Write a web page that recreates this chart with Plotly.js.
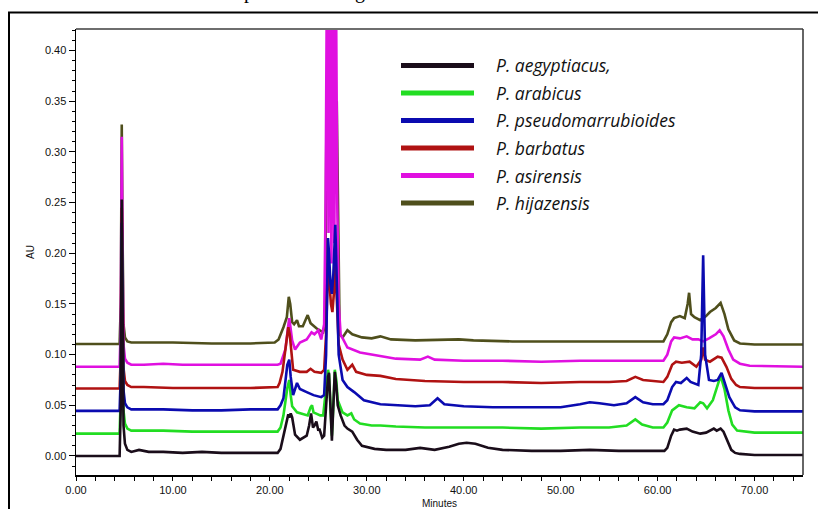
<!DOCTYPE html>
<html>
<head>
<meta charset="utf-8">
<script src="https://cdn.plot.ly/plotly-3.0.1.min.js"></script>
<style>
html,body{margin:0;padding:0;background:#fff;}
#chart{width:818px;height:509px;}
</style>
</head>
<body>
<div id="chart"></div>
<script>
// ---- Data (retention time in minutes, absorbance in AU) ----
const seriesNames = ["P. aegyptiacus,", "P. arabicus", "P. pseudomarrubioides", "P. barbatus", "P. asirensis", "P. hijazensis"];
const seriesColors = ["#1a0d1a", "#22dd22", "#0b0bb0", "#b01212", "#e010e0", "#4f4f1c"];
// stacking order from bottom to top (indices into the series above)
const drawOrder = [5, 4, 3, 1, 2, 0];

const aegyptiacusT = [0,4.5,4.62,4.72,4.8,4.9,5.05,5.3,5.7,6.5,7.5,9,11,13,15,17,19,20.8,21.1,21.4,21.75,21.9,22.0,22.15,22.3,22.6,23.1,23.8,24.05,24.25,24.45,24.6,24.8,25.0,25.1,25.4,25.6,25.8,26.0,26.1,26.25,26.4,26.55,26.7,26.85,27.0,27.3,27.7,28.0,28.5,29.0,29.5,30.8,32,34,35.5,37,38.5,39.5,40.3,41.2,42.5,44,47,50,53,56,59,60.7,61.0,61.4,61.7,62.0,62.3,63.0,63.6,64.4,65.0,65.8,66.1,66.5,66.8,67.2,67.6,68.0,68.5,70,72,75];
const aegyptiacusY = [0.000,0.000,0.05,0.253,0.15,0.03,0.012,0.006,0.004,0.006,0.004,0.004,0.003,0.004,0.003,0.003,0.003,0.003,0.007,0.021,0.036,0.041,0.038,0.042,0.038,0.021,0.016,0.020,0.030,0.042,0.028,0.030,0.034,0.025,0.027,0.018,0.020,0.050,0.078,0.082,0.050,0.015,0.050,0.083,0.070,0.050,0.040,0.030,0.027,0.024,0.016,0.010,0.007,0.006,0.006,0.008,0.006,0.009,0.012,0.013,0.012,0.008,0.006,0.005,0.005,0.006,0.005,0.005,0.005,0.008,0.020,0.026,0.025,0.026,0.027,0.024,0.022,0.023,0.027,0.025,0.027,0.024,0.014,0.006,0.003,0.002,0.001,0.001,0.001];

const arabicusT = [0,4.5,4.62,4.72,4.8,4.9,5.05,5.3,5.7,7,9,12,15,18,20.8,21.1,21.4,21.8,22.0,22.15,22.3,22.8,23.4,23.9,24.2,24.35,24.5,25.2,25.5,25.8,26.0,26.1,26.25,26.4,26.55,26.7,26.85,27.0,27.5,28.0,28.4,28.7,29.3,30.5,31.4,33,36,40,44,48,52,55,56.8,57.7,58.4,59.5,60.6,61.0,61.5,62.2,63.0,63.8,64.4,64.7,65.1,65.7,66.2,66.5,66.9,67.3,67.7,68.2,70,75];
const arabicusY = [0.022,0.022,0.06,0.22,0.14,0.045,0.032,0.027,0.025,0.025,0.025,0.024,0.024,0.024,0.024,0.028,0.040,0.067,0.075,0.060,0.049,0.043,0.041,0.040,0.048,0.050,0.043,0.040,0.040,0.070,0.085,0.080,0.050,0.020,0.050,0.085,0.075,0.055,0.043,0.040,0.042,0.036,0.032,0.030,0.030,0.029,0.028,0.028,0.028,0.027,0.028,0.028,0.030,0.036,0.031,0.028,0.028,0.033,0.045,0.050,0.048,0.047,0.053,0.052,0.047,0.055,0.070,0.079,0.066,0.045,0.031,0.025,0.023,0.023];

const pseudomarrubioidesT = [0,4.5,4.62,4.72,4.8,4.9,5.05,5.3,5.7,7,9,12,15,18,20.8,21.1,21.4,21.8,22.0,22.15,22.4,22.8,23.1,23.8,24.5,25.3,25.6,25.8,26.0,26.1,26.25,26.4,26.55,26.75,26.9,27.1,27.5,28.0,28.7,29.7,31.4,33,35,36.5,37.3,38,40,43,47,50,52,53,54,55.5,56.8,57.7,58.5,59.5,60.6,61.0,61.5,61.9,62.4,63.0,63.4,64.2,64.5,64.7,64.9,65.3,65.8,66.2,66.6,67.0,67.4,68.0,68.5,70,75];
const pseudomarrubioidesY = [0.0445,0.0445,0.08,0.23,0.15,0.065,0.052,0.048,0.046,0.046,0.046,0.045,0.045,0.046,0.046,0.050,0.057,0.090,0.095,0.078,0.060,0.072,0.066,0.063,0.060,0.058,0.060,0.100,0.215,0.200,0.170,0.160,0.180,0.228,0.170,0.100,0.075,0.068,0.063,0.055,0.051,0.050,0.049,0.050,0.057,0.051,0.049,0.048,0.048,0.048,0.051,0.053,0.052,0.050,0.052,0.058,0.053,0.051,0.051,0.055,0.068,0.073,0.072,0.077,0.073,0.070,0.100,0.198,0.100,0.075,0.074,0.075,0.082,0.070,0.058,0.048,0.045,0.044,0.044];

const barbatusT = [0,4.5,4.62,4.72,4.8,4.9,5.05,5.3,5.7,7,10,14,18,20.8,21.0,21.3,21.7,21.9,22.05,22.2,22.4,23.1,23.8,24.2,24.6,25.3,25.6,25.8,26.0,26.15,26.3,26.45,26.6,26.75,26.9,27.1,27.5,28.0,28.5,28.9,30,31.4,33,36,40,44,48,52,55,56.8,57.7,58.5,60.6,61.0,61.5,61.9,62.5,63.3,64.0,64.5,64.7,64.9,65.4,66.2,66.6,67.1,67.6,68.1,68.5,70,75];
const barbatusY = [0.0665,0.0665,0.10,0.245,0.16,0.087,0.074,0.070,0.068,0.068,0.067,0.067,0.067,0.068,0.072,0.083,0.115,0.127,0.120,0.105,0.085,0.083,0.083,0.086,0.083,0.082,0.085,0.120,0.190,0.170,0.150,0.142,0.160,0.190,0.150,0.110,0.095,0.085,0.090,0.083,0.080,0.079,0.076,0.074,0.073,0.073,0.072,0.073,0.073,0.074,0.078,0.075,0.073,0.078,0.090,0.093,0.092,0.093,0.088,0.095,0.107,0.095,0.093,0.098,0.097,0.088,0.076,0.070,0.068,0.067,0.067];

const asirensisT = [0,4.5,4.62,4.72,4.8,4.9,5.05,5.3,5.7,7,9,11,14,18,20.8,21.1,21.6,21.85,22.0,22.15,22.3,22.6,23.1,23.8,24.3,24.6,25.0,25.3,25.6,25.75,25.9,26.05,26.2,26.35,26.5,26.65,26.8,26.95,27.1,27.3,28.0,29.3,31.4,33,35.5,36.3,37,40,44,48,52,56,60.6,61.0,61.4,61.7,62.3,63.0,63.6,64.2,64.7,65.3,66.0,66.4,66.8,67.3,67.8,68.5,69.5,75];
const asirensisY = [0.088,0.088,0.13,0.315,0.20,0.110,0.096,0.092,0.090,0.090,0.091,0.090,0.090,0.090,0.090,0.091,0.105,0.125,0.136,0.125,0.114,0.105,0.112,0.115,0.122,0.120,0.124,0.115,0.130,0.250,0.500,0.220,0.500,0.190,0.500,0.210,0.500,0.250,0.150,0.120,0.107,0.102,0.099,0.096,0.095,0.098,0.095,0.094,0.094,0.093,0.094,0.094,0.094,0.100,0.113,0.117,0.116,0.118,0.115,0.115,0.113,0.116,0.120,0.124,0.118,0.105,0.095,0.091,0.089,0.088];

const hijazensisT = [0,4.5,4.62,4.72,4.8,4.9,5.05,5.3,5.7,7,10,14,18,20.5,20.9,21.4,21.75,21.95,22.1,22.3,22.5,22.8,23.0,23.4,23.9,24.2,24.8,25.5,25.7,25.85,26.45,26.9,27.05,27.2,27.5,28.0,28.5,29.5,30.5,31.4,32.5,35,39.5,41,45,50,55,60.6,61.0,61.4,61.7,62.3,62.8,63.1,63.25,63.45,63.8,64.4,65.0,65.4,66.0,66.5,66.9,67.3,67.9,68.5,70,75];
const hijazensisY = [0.1105,0.1105,0.15,0.327,0.22,0.130,0.117,0.113,0.112,0.112,0.112,0.111,0.111,0.112,0.115,0.127,0.137,0.157,0.150,0.132,0.130,0.134,0.128,0.128,0.139,0.131,0.126,0.122,0.130,0.350,0.300,0.350,0.200,0.120,0.117,0.124,0.120,0.117,0.116,0.118,0.115,0.114,0.115,0.114,0.113,0.113,0.113,0.113,0.120,0.132,0.136,0.138,0.136,0.150,0.161,0.140,0.137,0.134,0.138,0.142,0.146,0.151,0.140,0.125,0.114,0.111,0.110,0.110];

const xTickLabels = ["0.00","10.00","20.00","30.00","40.00","50.00","60.00","70.00"];
const xTickVals = [0,10,20,30,40,50,60,70];
const yTickLabels = ["0.00","0.05","0.10","0.15","0.20","0.25","0.30","0.35","0.40"];
const yTickVals = [0,0.05,0.10,0.15,0.20,0.25,0.30,0.35,0.40];

// ---- Layout geometry ----
const W = 818, H = 509, ML = 76, MR = 15, MT = 29, MB = 34;
const PW = W - ML - MR, PH = H - MT - MB;
const px = v => (v - ML) / PW;          // page pixel x -> paper x
const py = v => (H - MB - v) / PH;      // page pixel y -> paper y

const allT = [aegyptiacusT, arabicusT, pseudomarrubioidesT, barbatusT, asirensisT, hijazensisT];
const allY = [aegyptiacusY, arabicusY, pseudomarrubioidesY, barbatusY, asirensisY, hijazensisY];

const traces = drawOrder.map(i => ({
  x: allT[i], y: allY[i], type: 'scatter', mode: 'lines',
  name: seriesNames[i],
  line: {color: seriesColors[i], width: 2.6},
  showlegend: false, hoverinfo: 'skip'
}));

const shapes = [
  // outer frame of the figure
  {type: 'rect', xref: 'paper', yref: 'paper', x0: px(9), x1: px(840), y0: py(530), y1: py(12.5),
   line: {color: '#000', width: 2}, fillcolor: 'rgba(0,0,0,0)', layer: 'below'},
  // top and right border of the plot box
  {type: 'line', xref: 'paper', yref: 'paper', x0: 0, x1: 1, y0: 1, y1: 1, line: {color: '#6e6e6e', width: 2}},
  {type: 'line', xref: 'paper', yref: 'paper', x0: 1, x1: 1, y0: 0, y1: 1, line: {color: '#333', width: 1.5}}
];
const annotations = [];

// custom legend
const legLineX0 = 401, legLineX1 = 474, legTextX = 494, legY0 = 65.5, legStep = 27.5;
seriesNames.forEach((n, i) => {
  const yy = py(legY0 + i * legStep);
  shapes.push({type: 'line', xref: 'paper', yref: 'paper', x0: px(legLineX0), x1: px(legLineX1), y0: yy, y1: yy,
               line: {color: seriesColors[i], width: 5}});
  annotations.push({xref: 'paper', yref: 'paper', x: px(legTextX), y: yy, xanchor: 'left', yanchor: 'middle',
                    text: '<i>' + n + '</i>', showarrow: false,
                    font: {family: 'Open Sans, sans-serif', size: 17.5, color: '#111'}});
});

// remnants of the caption above the frame (only descenders are visible)
annotations.push({xref: 'paper', yref: 'paper', x: px(249), y: py(-8.5), xanchor: 'center', yanchor: 'middle',
                  text: 'p', showarrow: false, font: {family: 'Liberation Serif, serif', size: 20, color: '#000'}});
annotations.push({xref: 'paper', yref: 'paper', x: px(360), y: py(-8.5), xanchor: 'center', yanchor: 'middle',
                  text: 'g', showarrow: false, font: {family: 'Liberation Serif, serif', size: 20, color: '#000'}});

const tickFont = {family: 'Liberation Sans, Arial, sans-serif', size: 11, color: '#111'};

const layout = {
  width: W, height: H,
  margin: {l: ML, r: MR, t: MT, b: MB},
  paper_bgcolor: '#fff', plot_bgcolor: '#fff',
  showlegend: false,
  xaxis: {
    range: [0, 75], showgrid: false, zeroline: false,
    showline: true, linecolor: '#000', linewidth: 1.5,
    ticks: 'outside', ticklen: 4, tickwidth: 1, tickcolor: '#000',
    tickvals: xTickVals, ticktext: xTickLabels, tickfont: tickFont,
    minor: {dtick: 2, tick0: 0, ticks: 'outside', ticklen: 4, tickwidth: 1, tickcolor: '#000'},
    title: {text: 'Minutes', font: {family: 'Liberation Sans, Arial, sans-serif', size: 10, color: '#111'}, standoff: 8},
    automargin: false
  },
  yaxis: {
    range: [-0.0188, 0.4213], showgrid: false, zeroline: false,
    showline: true, linecolor: '#000', linewidth: 1.5,
    ticks: 'outside', ticklen: 6, tickwidth: 1, tickcolor: '#000',
    tickvals: yTickVals, ticktext: yTickLabels, tickfont: tickFont,
    minor: {dtick: 0.01, tick0: 0, ticks: 'outside', ticklen: 3, tickwidth: 1, tickcolor: '#000'},
    title: {text: 'AU', font: {family: 'Liberation Sans, Arial, sans-serif', size: 10, color: '#111'}, standoff: 8},
    automargin: false
  },
  shapes: shapes,
  annotations: annotations
};

Plotly.newPlot('chart', traces, layout, {staticPlot: true, displayModeBar: false});
</script>
</body>
</html>
